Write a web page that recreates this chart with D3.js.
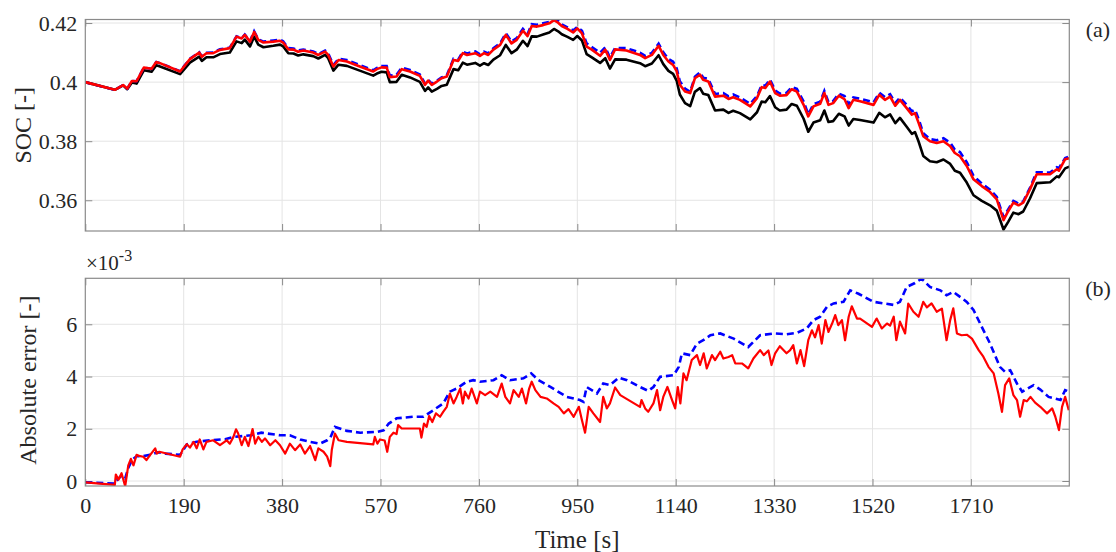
<!DOCTYPE html>
<html><head><meta charset="utf-8">
<script src="https://cdn.jsdelivr.net/npm/d3@7"></script>
<style>
html,body{margin:0;padding:0;background:#fff;}
svg{display:block;font-family:"Liberation Serif","Times New Roman",serif;}
</style></head>
<body><svg id="c" width="1116" height="552"></svg>
<script>
// ---------- data ----------
const xTicks = [0,190,380,570,760,950,1140,1330,1520,1710];
const socTicks = [0.36,0.38,0.40,0.42];
const socTickLabels = ["0.36","0.38","0.4","0.42"];
const errTicks = [0,2,4,6];

const socTime = [0,57,73,81,90,99,113,128,137,143,183,202,220,225,234,247,260,279,292,302,308,318,326,334,344,363,376,382,392,402,411,421,440,450,463,469,479,489,505,530,556,563,572,582,588,601,611,627,646,656,662,669,679,688,698,711,720,729,737,753,762,770,778,788,801,812,823,833,845,854,862,872,884,896,905,913,920,931,942,950,959,968,978,994,1004,1013,1023,1045,1071,1081,1094,1107,1116,1126,1135,1142,1148,1158,1168,1177,1187,1193,1203,1216,1232,1242,1251,1264,1284,1297,1306,1313,1322,1332,1341,1354,1364,1374,1387,1396,1406,1419,1427,1435,1444,1455,1466,1474,1483,1496,1522,1533,1544,1554,1564,1573,1586,1596,1602,1609,1618,1631,1644,1657,1670,1679,1689,1702,1715,1731,1747,1760,1773,1782,1792,1802,1811,1824,1837,1863,1876,1880,1892,1900];

const socTrue = [0.4000,0.3974,0.3989,0.3976,0.3999,0.3995,0.4040,0.4035,0.4057,0.4054,0.4027,0.4066,0.4086,0.4072,0.4084,0.4084,0.4095,0.4100,0.4138,0.4132,0.4144,0.4121,0.4154,0.4127,0.4118,0.4123,0.4127,0.4121,0.4098,0.4097,0.4090,0.4094,0.4088,0.4080,0.4092,0.4081,0.4039,0.4059,0.4055,0.4039,0.4022,0.4029,0.4035,0.4033,0.4000,0.4001,0.4025,0.4016,0.4001,0.3970,0.3982,0.3968,0.3977,0.3987,0.3991,0.4044,0.4040,0.4066,0.4059,0.4065,0.4056,0.4064,0.4058,0.4076,0.4091,0.4126,0.4098,0.4110,0.4140,0.4122,0.4155,0.4154,0.4161,0.4168,0.4180,0.4172,0.4162,0.4153,0.4143,0.4156,0.4141,0.4095,0.4084,0.4065,0.4081,0.4046,0.4077,0.4076,0.4064,0.4054,0.4063,0.4091,0.4061,0.4038,0.4028,0.4004,0.3958,0.3929,0.3919,0.3967,0.3980,0.3961,0.3956,0.3904,0.3907,0.3896,0.3903,0.3895,0.3874,0.3898,0.3934,0.3932,0.3953,0.3915,0.3904,0.3907,0.3926,0.3920,0.3876,0.3832,0.3863,0.3871,0.3904,0.3865,0.3868,0.3893,0.3884,0.3853,0.3875,0.3872,0.3863,0.3896,0.3881,0.3891,0.3861,0.3879,0.3849,0.3825,0.3831,0.3799,0.3750,0.3732,0.3729,0.3738,0.3723,0.3700,0.3693,0.3660,0.3617,0.3598,0.3583,0.3565,0.3501,0.3527,0.3558,0.3553,0.3562,0.3606,0.3658,0.3661,0.3681,0.3678,0.3708,0.3714];

const socEstA = [0.4000,0.3974,0.3990,0.3978,0.4004,0.4003,0.4049,0.4045,0.4068,0.4065,0.4037,0.4079,0.4101,0.4087,0.4099,0.4100,0.4111,0.4117,0.4155,0.4149,0.4161,0.4139,0.4172,0.4145,0.4137,0.4141,0.4144,0.4138,0.4115,0.4114,0.4107,0.4110,0.4104,0.4095,0.4107,0.4097,0.4058,0.4079,0.4075,0.4058,0.4040,0.4048,0.4054,0.4054,0.4022,0.4025,0.4049,0.4041,0.4026,0.3995,0.4008,0.3995,0.4005,0.4016,0.4023,0.4079,0.4076,0.4103,0.4097,0.4104,0.4094,0.4103,0.4097,0.4115,0.4131,0.4166,0.4137,0.4149,0.4180,0.4163,0.4196,0.4194,0.4199,0.4204,0.4212,0.4207,0.4195,0.4185,0.4175,0.4187,0.4174,0.4131,0.4119,0.4099,0.4118,0.4083,0.4116,0.4115,0.4100,0.4089,0.4099,0.4130,0.4101,0.4078,0.4069,0.4046,0.4003,0.3978,0.3967,0.4018,0.4033,0.4015,0.4011,0.3960,0.3963,0.3952,0.3958,0.3948,0.3926,0.3953,0.3990,0.3988,0.4009,0.3972,0.3961,0.3964,0.3983,0.3977,0.3934,0.3891,0.3925,0.3934,0.3970,0.3932,0.3936,0.3961,0.3953,0.3925,0.3948,0.3944,0.3932,0.3964,0.3949,0.3959,0.3929,0.3948,0.3923,0.3901,0.3907,0.3875,0.3827,0.3807,0.3803,0.3810,0.3795,0.3771,0.3763,0.3729,0.3683,0.3657,0.3636,0.3611,0.3543,0.3569,0.3598,0.3589,0.3596,0.3642,0.3695,0.3694,0.3712,0.3709,0.3743,0.3748];

const socEstB = [0.4000,0.3974,0.3990,0.3978,0.4004,0.4003,0.4049,0.4045,0.4068,0.4065,0.4036,0.4078,0.4100,0.4086,0.4098,0.4098,0.4109,0.4115,0.4154,0.4148,0.4160,0.4137,0.4170,0.4143,0.4134,0.4137,0.4140,0.4134,0.4111,0.4110,0.4103,0.4107,0.4100,0.4092,0.4103,0.4092,0.4053,0.4075,0.4070,0.4053,0.4036,0.4044,0.4050,0.4049,0.4017,0.4019,0.4044,0.4036,0.4021,0.3991,0.4005,0.3991,0.4002,0.4013,0.4019,0.4075,0.4072,0.4098,0.4092,0.4098,0.4089,0.4098,0.4092,0.4110,0.4126,0.4160,0.4131,0.4143,0.4174,0.4156,0.4190,0.4188,0.4193,0.4199,0.4210,0.4201,0.4190,0.4180,0.4168,0.4182,0.4165,0.4120,0.4110,0.4089,0.4110,0.4075,0.4111,0.4107,0.4092,0.4081,0.4092,0.4123,0.4092,0.4070,0.4058,0.4036,0.3991,0.3968,0.3963,0.4013,0.4025,0.4008,0.4002,0.3951,0.3954,0.3943,0.3949,0.3940,0.3918,0.3946,0.3983,0.3980,0.4002,0.3963,0.3954,0.3956,0.3976,0.3968,0.3923,0.3884,0.3918,0.3927,0.3963,0.3923,0.3929,0.3954,0.3942,0.3912,0.3940,0.3935,0.3923,0.3957,0.3940,0.3951,0.3920,0.3940,0.3912,0.3890,0.3895,0.3862,0.3817,0.3800,0.3794,0.3800,0.3783,0.3760,0.3749,0.3716,0.3671,0.3648,0.3628,0.3603,0.3533,0.3563,0.3592,0.3583,0.3592,0.3637,0.3688,0.3688,0.3705,0.3700,0.3739,0.3742];

const errATime = [0,57,64,70,77,83,90,99,110,125,140,155,183,196,215,240,270,286,320,340,376,395,415,434,453,467,473,482,505,531,563,576,586,601,633,653,672,691,704,717,736,749,762,788,804,820,846,861,875,898,930,955,962,968,988,1000,1013,1030,1046,1071,1087,1097,1110,1136,1146,1152,1168,1181,1194,1207,1226,1252,1280,1303,1329,1354,1374,1393,1406,1419,1432,1445,1464,1477,1493,1522,1561,1573,1586,1602,1615,1631,1651,1663,1676,1702,1715,1731,1747,1766,1776,1786,1799,1809,1831,1844,1860,1883,1892,1900];
const errA = [-0.05,-0.1,0.1,0.2,0.1,0.5,0.8,0.95,0.95,1.0,1.1,1.05,1.0,1.4,1.5,1.56,1.6,1.69,1.75,1.85,1.75,1.75,1.59,1.5,1.43,1.56,1.65,2.07,1.92,1.85,1.88,1.94,2.2,2.4,2.46,2.46,2.71,2.97,3.42,3.54,3.8,3.86,3.8,3.86,4.05,3.86,3.93,4.12,3.86,3.6,3.22,3.1,3.03,3.6,3.35,3.73,3.67,3.96,3.86,3.6,3.45,3.6,3.99,4.05,4.37,4.89,4.82,5.26,5.4,5.58,5.65,5.45,5.13,5.58,5.65,5.62,5.67,5.84,6.16,6.29,6.67,6.8,6.86,7.3,7.17,6.86,6.74,6.86,7.43,7.58,7.75,7.43,7.3,7.11,7.24,6.86,6.55,5.9,5.26,4.37,4.18,4.24,3.73,3.42,3.67,3.5,3.22,3.1,3.48,3.42];

const errBTime = [0,57,59,64,70,77,83,88,93,99,106,112,118,125,135,138,143,183,188,196,202,209,215,221,228,234,247,260,273,279,286,291,295,302,308,315,323,328,334,341,347,357,367,376,386,395,405,415,424,434,444,450,460,467,473,476,482,489,505,556,559,564,569,578,583,588,595,601,604,611,646,649,654,659,664,670,677,685,691,698,704,711,717,724,729,733,740,746,756,762,772,782,795,804,811,820,827,837,843,851,857,862,869,879,891,904,914,924,933,943,953,959,965,972,981,994,1000,1007,1013,1023,1033,1071,1074,1081,1087,1097,1104,1110,1116,1124,1133,1139,1144,1149,1155,1161,1171,1181,1187,1194,1200,1210,1216,1226,1232,1242,1249,1255,1268,1280,1290,1303,1310,1319,1325,1332,1341,1354,1361,1367,1374,1381,1388,1396,1403,1409,1416,1422,1429,1435,1442,1448,1454,1461,1467,1474,1480,1490,1496,1519,1528,1538,1548,1554,1561,1566,1573,1583,1589,1599,1609,1618,1625,1634,1644,1654,1663,1670,1676,1683,1692,1702,1712,1725,1734,1744,1754,1763,1770,1776,1784,1792,1799,1805,1812,1818,1825,1834,1844,1857,1867,1873,1880,1886,1892,1899];
const errB = [-0.05,-0.15,0.25,0.05,0.3,-0.2,0.6,0.85,0.6,1.0,0.95,0.93,0.8,0.99,1.25,1.05,1.12,0.93,1.21,1.41,1.28,1.5,1.25,1.59,1.21,1.5,1.56,1.37,1.56,1.43,1.69,1.98,1.83,1.37,1.69,1.34,1.99,1.43,1.69,1.5,1.63,1.37,1.56,1.37,1.05,1.43,1.18,1.4,1.05,1.34,0.8,1.25,1.12,0.93,0.57,1.2,1.82,1.56,1.5,1.4,1.69,1.43,1.59,1.55,1.12,1.69,1.85,1.8,2.14,2.01,2.01,1.66,2.2,2.07,2.49,2.26,2.59,2.46,2.65,2.84,3.35,2.97,3.22,3.54,2.97,3.42,3.16,3.54,2.97,3.42,3.29,3.42,3.22,3.73,3.22,2.97,3.48,3.22,3.54,2.97,3.54,3.8,3.48,3.22,3.16,2.97,2.84,2.59,2.75,2.46,2.84,2.33,1.85,2.84,2.59,2.26,3.22,2.78,2.97,3.58,3.29,2.84,3.1,2.78,2.65,2.97,3.48,2.71,3.22,3.6,3.1,2.78,3.6,2.97,4.12,3.86,4.63,4.82,4.44,4.89,4.31,4.82,4.63,4.95,4.69,4.75,4.82,4.5,4.5,4.31,4.69,5.01,4.82,5.0,4.44,4.89,5.16,4.89,5.01,5.2,4.5,5.01,4.4,5.39,5.77,5.5,5.97,5.26,6.16,5.71,6.03,6.35,5.97,6.16,5.39,6.29,6.69,6.22,6.22,5.9,6.22,5.84,6.03,5.95,6.29,5.39,6.1,5.65,6.79,6.48,6.29,6.86,6.65,6.8,6.48,6.6,5.39,6.16,6.61,5.65,5.58,5.6,5.45,5.01,4.76,4.37,4.12,3.35,2.65,3.67,3.93,3.29,3.1,2.46,3.1,3.05,3.22,3.0,2.84,2.59,2.78,2.46,1.95,2.84,3.22,2.71];

// ---------- layout ----------
const svg = d3.select("#c");
const L = 85.3, R = 1069.3;
const top1 = 19.5, bot1 = 231, top2 = 278.3, bot2 = 486;
const frameCol = "#8a8a8a", gridCol = "#e4e4e4", textCol = "#262626";

const x = d3.scaleLinear().domain([0, 1900]).range([L, R]);
const y1 = d3.scaleLinear().domain([0.3496, 0.4212]).range([bot1, top1]);
const y2 = d3.scaleLinear().domain([-0.191, 7.761]).range([bot2, top2]);

const defs = svg.append("defs");
defs.append("clipPath").attr("id","cp1").append("rect").attr("x",L).attr("y",top1).attr("width",R-L).attr("height",bot1-top1);
defs.append("clipPath").attr("id","cp2").append("rect").attr("x",L).attr("y",top2).attr("width",R-L).attr("height",bot2-top2);

function panel(y, top, bot, yTicks, yLabels, showX) {
  const g = svg.append("g");
  g.selectAll(".gx").data(xTicks.slice(1)).enter().append("line")
    .attr("x1", d => x(d)).attr("x2", d => x(d)).attr("y1", top).attr("y2", bot)
    .attr("stroke", gridCol).attr("stroke-width", 1);
  g.selectAll(".gy").data(yTicks).enter().append("line")
    .attr("x1", L).attr("x2", R).attr("y1", d => y(d)).attr("y2", d => y(d))
    .attr("stroke", gridCol).attr("stroke-width", 1);
  const ax = g.append("g").attr("transform", `translate(0,${bot})`)
    .call(d3.axisBottom(x).tickValues(xTicks).tickSize(-7).tickPadding(12)
      .tickFormat(showX ? d3.format("d") : () => ""));
  const axT = g.append("g").attr("transform", `translate(0,${top})`)
    .call(d3.axisTop(x).tickValues(xTicks).tickSize(-7).tickFormat(() => ""));
  const ay = g.append("g").attr("transform", `translate(${L},0)`)
    .call(d3.axisLeft(y).tickValues(yTicks).tickSize(-7).tickPadding(8)
      .tickFormat((d, i) => yLabels[i]));
  const ayR = g.append("g").attr("transform", `translate(${R},0)`)
    .call(d3.axisRight(y).tickValues(yTicks).tickSize(-7).tickFormat(() => ""));
  [ax, axT, ay, ayR].forEach(a => {
    a.select(".domain").remove();
    a.selectAll(".tick line").attr("stroke", frameCol);
    a.selectAll("text").attr("fill", textCol).style("font-size", "22px")
      .style("font-family", '"Liberation Serif", serif');
  });
  ax.selectAll("text").attr("dy", "0.68em");
  return g;
}

panel(y1, top1, bot1, socTicks, socTickLabels, false);
panel(y2, top2, bot2, errTicks, errTicks.map(String), true);

const lineSoc = (vals) => d3.line().x((d, i) => x(socTime[i])).y((d) => y1(d))(vals);
const g1 = svg.append("g").attr("clip-path", "url(#cp1)");
g1.append("path").attr("d", lineSoc(socTrue)).attr("fill","none").attr("stroke","#000").attr("stroke-width",2.6).attr("stroke-linejoin","round");
g1.append("path").attr("d", lineSoc(socEstA)).attr("fill","none").attr("stroke","#0000ff").attr("stroke-width",2.6).attr("stroke-dasharray","7,4");
g1.append("path").attr("d", lineSoc(socEstB)).attr("fill","none").attr("stroke","#ff0000").attr("stroke-width",2.6).attr("stroke-linejoin","round");

const g2 = svg.append("g").attr("clip-path", "url(#cp2)");
const lA = d3.line().x((d, i) => x(errATime[i])).y(d => y2(d));
const lB = d3.line().x((d, i) => x(errBTime[i])).y(d => y2(d));
g2.append("path").attr("d", lA(errA)).attr("fill","none").attr("stroke","#0000ff").attr("stroke-width",2.6).attr("stroke-dasharray","7,4");
g2.append("path").attr("d", lB(errB)).attr("fill","none").attr("stroke","#ff0000").attr("stroke-width",2.2).attr("stroke-linejoin","round");

[[top1,bot1],[top2,bot2]].forEach(([t,b]) => {
  svg.append("rect").attr("x",L).attr("y",t).attr("width",R-L).attr("height",b-t)
    .attr("fill","none").attr("stroke",frameCol).attr("stroke-width",1.2);
});

svg.append("text").attr("transform",`translate(31,${(top1+bot1)/2}) rotate(-90)`)
  .attr("text-anchor","middle").attr("fill",textCol).style("font-size","24px").text("SOC [-]");
svg.append("text").attr("transform",`translate(36,${(top2+bot2)/2 - 2}) rotate(-90)`)
  .attr("text-anchor","middle").attr("fill",textCol).style("font-size","24px").text("Absolute error [-]");
svg.append("text").attr("x", (L+R)/2).attr("y", 548).attr("text-anchor","middle")
  .attr("fill",textCol).style("font-size","25px").text("Time [s]");
svg.append("text").attr("x", 1098).attr("y", 37).attr("text-anchor","middle")
  .attr("fill",textCol).style("font-size","22px").text("(a)");
svg.append("text").attr("x", 1098).attr("y", 296).attr("text-anchor","middle")
  .attr("fill",textCol).style("font-size","22px").text("(b)");
const mult = svg.append("text").attr("x", 86).attr("y", 270).attr("fill",textCol).style("font-size","21px");
mult.append("tspan").text("\u00d710");
mult.append("tspan").attr("dy",-9).style("font-size","16px").text("-3");
</script></body></html>
